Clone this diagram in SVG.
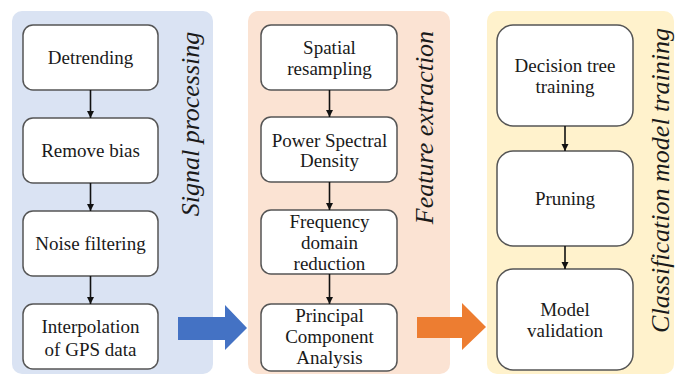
<svg xmlns="http://www.w3.org/2000/svg" width="676" height="378" viewBox="0 0 676 378">
<style>
.box{fill:#ffffff;stroke:#555555;stroke-width:1.5}
.t{font-family:"Times New Roman", Tinos, "Noto Serif", "Nimbus Roman", FreeSerif, "Liberation Serif", "DejaVu Serif", serif;font-size:19px;fill:#1a1a1a;text-anchor:middle}
.title{font-family:"Times New Roman", Tinos, "Noto Serif", "Nimbus Roman", FreeSerif, "Liberation Serif", "DejaVu Serif", serif;font-size:26px;font-style:italic;fill:#1a1a1a;text-anchor:middle}
.conn{stroke:#111111;stroke-width:1.6;fill:none;marker-end:url(#ah)}
</style>
<defs>
<marker id="ah" markerWidth="8" markerHeight="8" refX="7" refY="4" orient="auto" markerUnits="userSpaceOnUse">
<path d="M0,0.5 L7,4 L0,7.5 Z" fill="#111111"/>
</marker>
</defs>
<rect width="676" height="378" fill="#ffffff"/>
<g id="panel-signal">
<rect x="12" y="11" width="201" height="363" rx="10" fill="#dae3f3"/>
<text class="title" transform="translate(199,124) rotate(-90)">Signal processing</text>
</g>
<g id="panel-feature">
<rect x="248" y="11" width="202" height="363" rx="10" fill="#fbe3d3"/>
<text class="title" transform="translate(433,127.5) rotate(-90)">Feature extraction</text>
</g>
<g id="panel-class">
<rect x="487" y="11" width="187" height="363" rx="10" fill="#fff2cc"/>
<text class="title" transform="translate(669,180.5) rotate(-90)">Classification model training</text>
</g>
<g id="arrow-blue"><path d="M178,317 H225 V305 L247,328 L225,350 V340 H178 Z" fill="#4472c4"/></g>
<g id="arrow-orange"><path d="M417,317 H462 V303 L486,327 L462,350 V338 H417 Z" fill="#ed7d31"/></g>
<g id="n-detrending"><rect class="box" x="23" y="25" width="135" height="65" rx="10"/><text class="t" x="90.5" y="64">Detrending</text></g>
<g id="n-bias"><rect class="box" x="23" y="118" width="135" height="65" rx="10"/><text class="t" x="90.5" y="157">Remove bias</text></g>
<g id="n-noise"><rect class="box" x="23" y="211" width="135" height="65" rx="10"/><text class="t" x="90.5" y="250">Noise filtering</text></g>
<g id="n-interp"><rect class="box" x="23" y="304" width="135" height="65" rx="10"/><text class="t" x="90.5" y="333">Interpolation</text><text class="t" x="90.5" y="356">of GPS data</text></g>
<g id="n-spatial"><rect class="box" x="261" y="25" width="136" height="65" rx="10"/><text class="t" x="329.5" y="53.5">Spatial</text><text class="t" x="329.5" y="74.5">resampling</text></g>
<g id="n-psd"><rect class="box" x="261" y="117" width="136" height="65" rx="10"/><text class="t" x="329.5" y="146.5">Power Spectral</text><text class="t" x="329.5" y="167">Density</text></g>
<g id="n-freq"><rect class="box" x="261" y="210" width="136" height="64" rx="10"/><text class="t" x="329.5" y="227.5">Frequency</text><text class="t" x="329.5" y="248.5">domain</text><text class="t" x="329.5" y="269.5">reduction</text></g>
<g id="n-pca"><rect class="box" x="261" y="304" width="136" height="67" rx="10"/><text class="t" x="329.5" y="322">Principal</text><text class="t" x="329.5" y="343">Component</text><text class="t" x="329.5" y="364">Analysis</text></g>
<g id="n-dtree"><rect class="box" x="497" y="25" width="136" height="101" rx="16"/><text class="t" x="565" y="71.5">Decision tree</text><text class="t" x="565" y="92.5">training</text></g>
<g id="n-pruning"><rect class="box" x="497" y="151" width="136" height="95" rx="16"/><text class="t" x="565" y="205">Pruning</text></g>
<g id="n-valid"><rect class="box" x="497" y="269" width="136" height="101" rx="16"/><text class="t" x="565" y="315.5">Model</text><text class="t" x="565" y="336.5">validation</text></g>
<g id="connectors">
<line class="conn" x1="90.5" y1="90" x2="90.5" y2="118"/>
<line class="conn" x1="90.5" y1="183" x2="90.5" y2="211"/>
<line class="conn" x1="90.5" y1="276" x2="90.5" y2="304"/>
<line class="conn" x1="329.5" y1="90" x2="329.5" y2="117"/>
<line class="conn" x1="329.5" y1="182" x2="329.5" y2="210"/>
<line class="conn" x1="329.5" y1="274" x2="329.5" y2="304"/>
<line class="conn" x1="565" y1="126" x2="565" y2="151"/>
<line class="conn" x1="565" y1="246" x2="565" y2="269"/>
</g>
</svg>
